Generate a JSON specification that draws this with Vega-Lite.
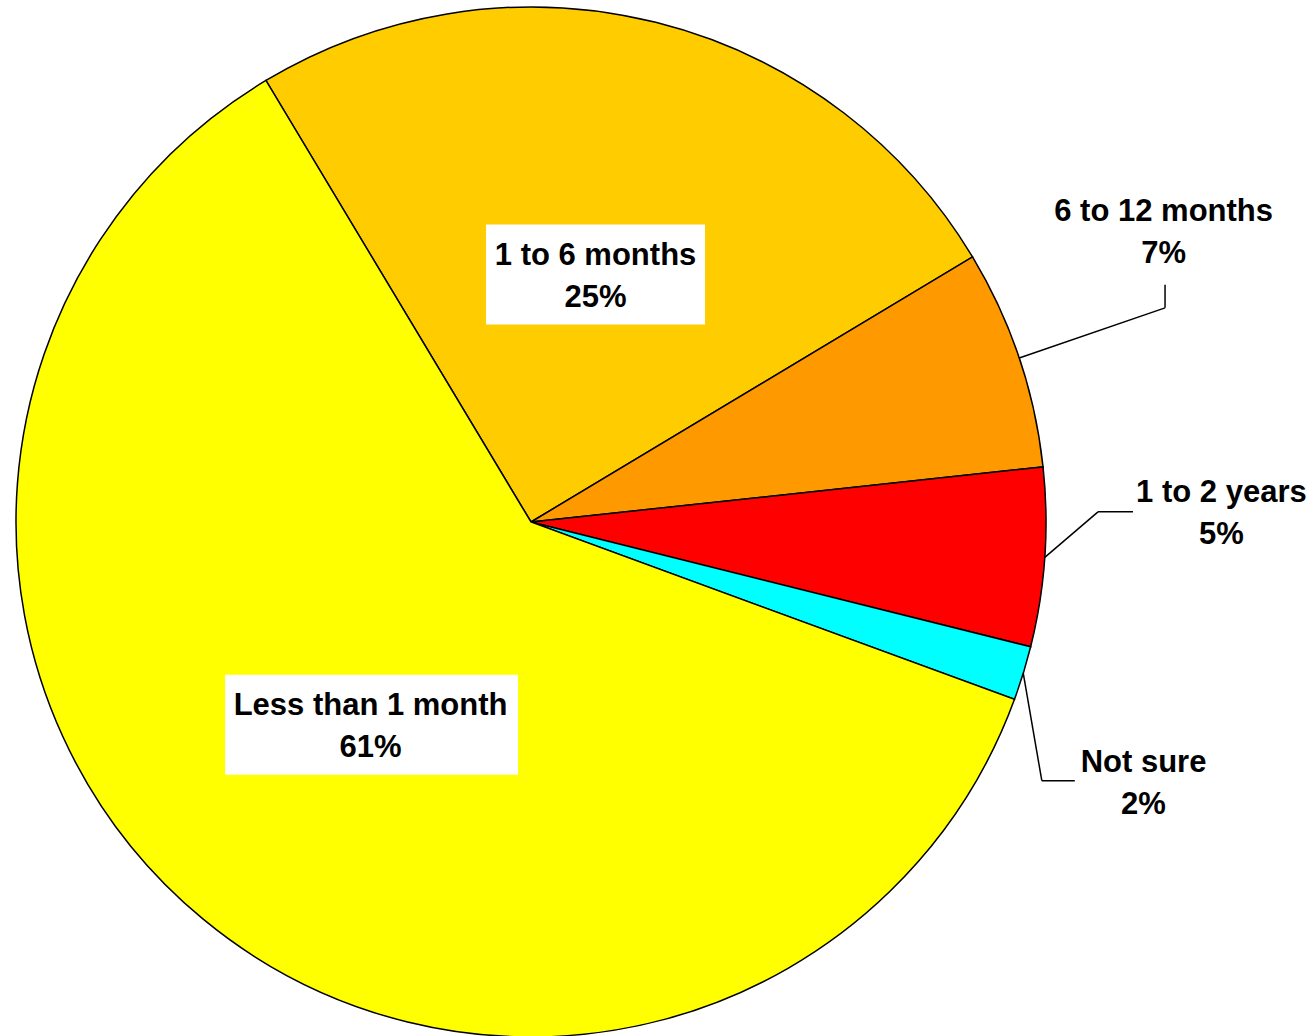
{
  "$schema": "https://vega.github.io/schema/vega-lite/v6.json",
  "width": 1030,
  "height": 1030,
  "autosize": {"type": "none"},
  "padding": {"left": 16, "top": 7, "right": 269, "bottom": 0},
  "background": "white",
  "config": {"view": {"stroke": null}},
  "data": {
    "values": [
      {"category": "1 to 6 months", "share": 25.0, "pct": "25%", "order": 1},
      {"category": "6 to 12 months", "share": 6.9, "pct": "7%", "order": 2},
      {"category": "1 to 2 years", "share": 5.6, "pct": "5%", "order": 3},
      {"category": "Not sure", "share": 1.7, "pct": "2%", "order": 4},
      {"category": "Less than 1 month", "share": 60.8, "pct": "61%", "order": 5}
    ]
  },
  "transform": [
    {"calculate": "datum.category + '\\n' + datum.pct", "as": "label"},
    {"joinaggregate": [{"op": "sum", "field": "share", "as": "total"}]},
    {"window": [{"op": "sum", "field": "share", "as": "cum"}], "sort": [{"field": "order"}], "frame": [null, 0]},
    {"calculate": "-0.5407 + 2*PI*(datum.cum - datum.share/2)/datum.total", "as": "mid"},
    {"calculate": "0.498*sin(datum.mid)", "as": "bx"},
    {"calculate": "0.498*cos(datum.mid)", "as": "by"},
    {"calculate": "sin(datum.mid)", "as": "ex"},
    {"calculate": "cos(datum.mid)", "as": "ey"},
    {"calculate": "1.3204*sin(datum.mid)", "as": "px"},
    {"calculate": "1.3204*cos(datum.mid)", "as": "py"}
  ],
  "layer": [
    {
      "mark": {"type": "arc", "outerRadius": 515, "stroke": "black", "strokeWidth": 1.5},
      "encoding": {
        "theta": {"field": "share", "type": "quantitative", "stack": true, "scale": {"range": [-0.5407, 5.7425]}},
        "order": {"field": "order", "type": "quantitative", "sort": "ascending"},
        "color": {
          "field": "category", "type": "nominal", "legend": null,
          "scale": {
            "domain": ["1 to 6 months", "6 to 12 months", "1 to 2 years", "Not sure", "Less than 1 month"],
            "range": ["#FFCC00", "#FF9900", "#FF0000", "#00FFFF", "#FFFF00"]
          }
        }
      }
    },
    {
      "transform": [{"filter": "datum.category === '1 to 6 months'"}],
      "mark": {"type": "point", "filled": true, "opacity": 1, "strokeWidth": 0, "xOffset": 2.4, "yOffset": 1.4, "shape": "M-1,-0.4566L1,-0.4566L1,0.4566L-1,0.4566Z", "size": 47961},
      "encoding": {
        "x": {"field": "bx", "type": "quantitative", "scale": {"domain": [-1, 1], "nice": false, "zero": false}, "axis": null},
        "y": {"field": "by", "type": "quantitative", "scale": {"domain": [-1, 1], "nice": false, "zero": false}, "axis": null},
        "color": {"value": "white"}
      }
    },
    {
      "transform": [{"filter": "datum.category === 'Less than 1 month'"}],
      "mark": {"type": "point", "filled": true, "opacity": 1, "strokeWidth": 0, "xOffset": 4, "yOffset": 5, "shape": "M-1,-0.3413L1,-0.3413L1,0.3413L-1,0.3413Z", "size": 85849},
      "encoding": {
        "x": {"field": "bx", "type": "quantitative", "scale": {"domain": [-1, 1], "nice": false, "zero": false}, "axis": null},
        "y": {"field": "by", "type": "quantitative", "scale": {"domain": [-1, 1], "nice": false, "zero": false}, "axis": null},
        "color": {"value": "white"}
      }
    },
    {
      "transform": [{"filter": "datum.category === '6 to 12 months'"}],
      "mark": {"type": "rule", "stroke": "black", "strokeWidth": 1.5, "x2Offset": -10.6, "y2Offset": 2.3},
      "encoding": {
        "x": {"field": "ex", "type": "quantitative", "scale": {"domain": [-1, 1], "nice": false, "zero": false}, "axis": null},
        "y": {"field": "ey", "type": "quantitative", "scale": {"domain": [-1, 1], "nice": false, "zero": false}, "axis": null},
        "x2": {"field": "px"},
        "y2": {"field": "py"}
      }
    },
    {
      "transform": [{"filter": "datum.category === '6 to 12 months'"}],
      "mark": {"type": "rule", "stroke": "black", "strokeWidth": 1.5, "xOffset": -10.6, "yOffset": 2.3, "x2Offset": -10.6, "y2Offset": -20.7},
      "encoding": {
        "x": {"field": "px", "type": "quantitative", "scale": {"domain": [-1, 1], "nice": false, "zero": false}, "axis": null},
        "y": {"field": "py", "type": "quantitative", "scale": {"domain": [-1, 1], "nice": false, "zero": false}, "axis": null},
        "x2": {"field": "px"},
        "y2": {"field": "py"}
      }
    },
    {
      "transform": [{"filter": "datum.category === '1 to 2 years'"}],
      "mark": {"type": "rule", "stroke": "black", "strokeWidth": 1.5, "x2Offset": -111.4, "y2Offset": -56.9},
      "encoding": {
        "x": {"field": "ex", "type": "quantitative", "scale": {"domain": [-1, 1], "nice": false, "zero": false}, "axis": null},
        "y": {"field": "ey", "type": "quantitative", "scale": {"domain": [-1, 1], "nice": false, "zero": false}, "axis": null},
        "x2": {"field": "px"},
        "y2": {"field": "py"}
      }
    },
    {
      "transform": [{"filter": "datum.category === '1 to 2 years'"}],
      "mark": {"type": "rule", "stroke": "black", "strokeWidth": 1.5, "xOffset": -111.4, "yOffset": -56.9, "x2Offset": -76.4, "y2Offset": -56.9},
      "encoding": {
        "x": {"field": "px", "type": "quantitative", "scale": {"domain": [-1, 1], "nice": false, "zero": false}, "axis": null},
        "y": {"field": "py", "type": "quantitative", "scale": {"domain": [-1, 1], "nice": false, "zero": false}, "axis": null},
        "x2": {"field": "px"},
        "y2": {"field": "py"}
      }
    },
    {
      "transform": [{"filter": "datum.category === 'Not sure'"}],
      "mark": {"type": "rule", "stroke": "black", "strokeWidth": 1.5, "x2Offset": -139.2, "y2Offset": 59},
      "encoding": {
        "x": {"field": "ex", "type": "quantitative", "scale": {"domain": [-1, 1], "nice": false, "zero": false}, "axis": null},
        "y": {"field": "ey", "type": "quantitative", "scale": {"domain": [-1, 1], "nice": false, "zero": false}, "axis": null},
        "x2": {"field": "px"},
        "y2": {"field": "py"}
      }
    },
    {
      "transform": [{"filter": "datum.category === 'Not sure'"}],
      "mark": {"type": "rule", "stroke": "black", "strokeWidth": 1.5, "xOffset": -139.2, "yOffset": 59, "x2Offset": -106.2, "y2Offset": 59},
      "encoding": {
        "x": {"field": "px", "type": "quantitative", "scale": {"domain": [-1, 1], "nice": false, "zero": false}, "axis": null},
        "y": {"field": "py", "type": "quantitative", "scale": {"domain": [-1, 1], "nice": false, "zero": false}, "axis": null},
        "x2": {"field": "px"},
        "y2": {"field": "py"}
      }
    },
    {
      "mark": {"type": "text", "radius": 256.5, "dx": 2.4, "dy": -8.5, "align": "center", "baseline": "alphabetic", "font": "Liberation Sans", "fontWeight": "bold", "fontSize": 31, "lineHeight": 42, "lineBreak": "\n"},
      "encoding": {
        "theta": {"field": "share", "type": "quantitative", "stack": true, "scale": {"range": [-0.5407, 5.7425]}},
        "order": {"field": "order", "type": "quantitative", "sort": "ascending"},
        "detail": {"field": "category"},
        "text": {"condition": {"test": "datum.category === '1 to 6 months'", "field": "label"}, "value": ""},
        "color": {"value": "black"}
      }
    },
    {
      "mark": {"type": "text", "radius": 256.5, "dx": 3, "dy": -4.9, "align": "center", "baseline": "alphabetic", "font": "Liberation Sans", "fontWeight": "bold", "fontSize": 31, "lineHeight": 42, "lineBreak": "\n"},
      "encoding": {
        "theta": {"field": "share", "type": "quantitative", "stack": true, "scale": {"range": [-0.5407, 5.7425]}},
        "order": {"field": "order", "type": "quantitative", "sort": "ascending"},
        "detail": {"field": "category"},
        "text": {"condition": {"test": "datum.category === 'Less than 1 month'", "field": "label"}, "value": ""},
        "color": {"value": "black"}
      }
    },
    {
      "mark": {"type": "text", "radius": 680, "dx": -12, "dy": -85, "align": "center", "baseline": "alphabetic", "font": "Liberation Sans", "fontWeight": "bold", "fontSize": 31, "lineHeight": 42, "lineBreak": "\n"},
      "encoding": {
        "theta": {"field": "share", "type": "quantitative", "stack": true, "scale": {"range": [-0.5407, 5.7425]}},
        "order": {"field": "order", "type": "quantitative", "sort": "ascending"},
        "detail": {"field": "category"},
        "text": {"condition": {"test": "datum.category === '6 to 12 months'", "field": "label"}, "value": ""},
        "color": {"value": "black"}
      }
    },
    {
      "mark": {"type": "text", "radius": 680, "dx": 12, "dy": -67, "align": "center", "baseline": "alphabetic", "font": "Liberation Sans", "fontWeight": "bold", "fontSize": 31, "lineHeight": 42, "lineBreak": "\n"},
      "encoding": {
        "theta": {"field": "share", "type": "quantitative", "stack": true, "scale": {"range": [-0.5407, 5.7425]}},
        "order": {"field": "order", "type": "quantitative", "sort": "ascending"},
        "detail": {"field": "category"},
        "text": {"condition": {"test": "datum.category === '1 to 2 years'", "field": "label"}, "value": ""},
        "color": {"value": "black"}
      }
    },
    {
      "mark": {"type": "text", "radius": 680, "dx": -37.5, "dy": 50, "align": "center", "baseline": "alphabetic", "font": "Liberation Sans", "fontWeight": "bold", "fontSize": 31, "lineHeight": 42, "lineBreak": "\n"},
      "encoding": {
        "theta": {"field": "share", "type": "quantitative", "stack": true, "scale": {"range": [-0.5407, 5.7425]}},
        "order": {"field": "order", "type": "quantitative", "sort": "ascending"},
        "detail": {"field": "category"},
        "text": {"condition": {"test": "datum.category === 'Not sure'", "field": "label"}, "value": ""},
        "color": {"value": "black"}
      }
    }
  ]
}
